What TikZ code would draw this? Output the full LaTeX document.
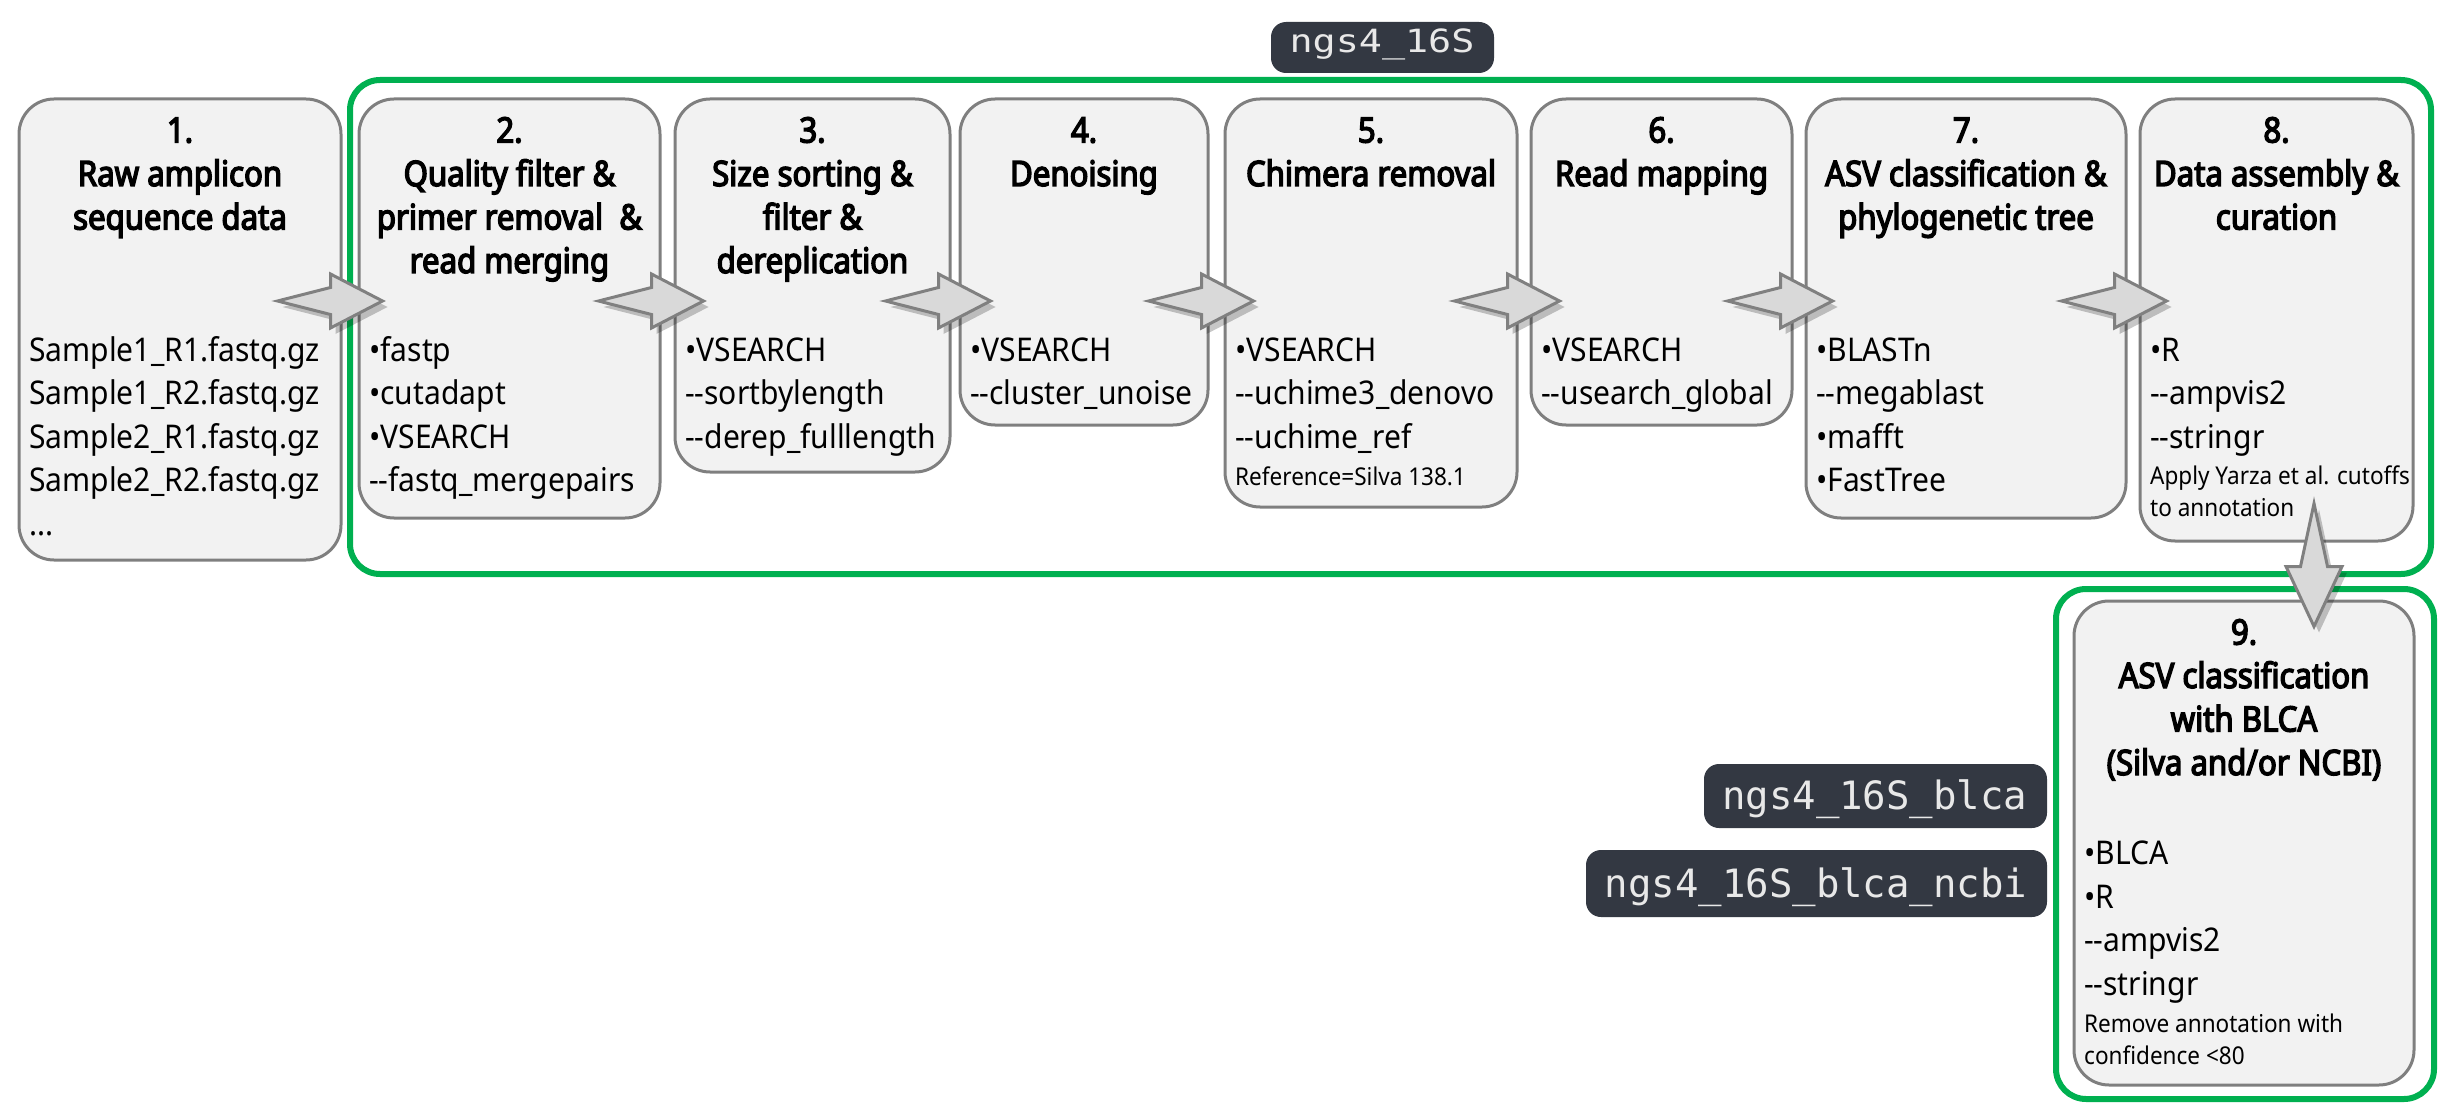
\documentclass[tikz,border=0pt]{standalone}
\usepackage{fontspec}
\setmainfont{Noto Sans}
\newfontfamily\bodyfont{Noto Sans}[FakeStretch=0.92]
\newfontfamily\ttlfont{Noto Sans}[FakeStretch=0.89, FakeBold=4]
\newfontfamily\tagmono{DejaVu Sans Mono}
\usetikzlibrary{calc,fit}
\definecolor{boxfill}{HTML}{F2F2F2}
\definecolor{boxline}{HTML}{7F7F7F}
\definecolor{frameg}{HTML}{00B050}
\definecolor{tagbg}{HTML}{333842}
\definecolor{tagfg}{HTML}{E8E8E8}
\definecolor{arrfill}{HTML}{D9D9D9}
\definecolor{arrline}{HTML}{808080}
\newcommand{\dd}{-\kern0pt-}
\begin{document}
\begin{tikzpicture}[x=0.3pt,y=-0.3pt,
  gbox/.style={draw=boxline, fill=boxfill, line width=0.9pt, rounded corners=10.5pt, inner sep=0pt},
  gframe/.style={draw=frameg, line width=1.8pt, rounded corners=9pt, inner sep=0pt},
  tag/.style={fill=tagbg, rounded corners=4.5pt, inner sep=0pt},
  ttl/.style={font=\ttlfont\fontsize{10.5}{13.05}\selectfont, align=center, anchor=base, inner sep=0pt},
  body/.style={font=\bodyfont\fontsize{9.8}{13.08}\selectfont, align=left, anchor=base west, inner sep=0pt},
  small/.style={font=\bodyfont\fontsize{7.35}{9.6}\selectfont, align=left, anchor=base west, inner sep=0pt},
  tagtxt/.style={text=tagfg, inner sep=0pt},
  arrstyle/.style={fill=arrfill, draw=arrline, line width=0.9pt, line join=miter},
  shadowstyle/.style={fill=black, opacity=0.22},
  harrow/.pic={
    \fill[shadowstyle, shift={(5,6)}] (-105,0) -- (-52,-13.5) -- (-52,-27) -- (0,0) -- (-52,27) -- (-52,13.5) -- cycle;
    \path[arrstyle] (-105,0) -- (-52,-13.5) -- (-52,-27) -- (0,0) -- (-52,27) -- (-52,13.5) -- cycle;
  },
  varrow/.pic={
    \fill[shadowstyle, shift={(5,6)}] (0,-123) -- (13.5,-60) -- (28,-60) -- (0,0) -- (-28,-60) -- (-13.5,-60) -- cycle;
    \path[arrstyle] (0,-123) -- (13.5,-60) -- (28,-60) -- (0,0) -- (-28,-60) -- (-13.5,-60) -- cycle;
  }
]
\useasboundingbox (0,0) rectangle (2453,1117);

% green frames
\node[gframe, fit={(350,80) (2431,574)}] (frame1) {};
\node[gframe, fit={(2056,589) (2434,1099)}] (frame2) {};

% grey boxes
\node[gbox, fit={(19,99) (341,560)}] (b1) {};
\node[gbox, fit={(359,99) (660,518)}] (b2) {};
\node[gbox, fit={(675,99) (950,472)}] (b3) {};
\node[gbox, fit={(960,99) (1208,425)}] (b4) {};
\node[gbox, fit={(1225,99) (1517,507)}] (b5) {};
\node[gbox, fit={(1531,99) (1792,425)}] (b6) {};
\node[gbox, fit={(1806,99) (2126,518)}] (b7) {};
\node[gbox, fit={(2140,99) (2413,541)}] (b8) {};
\node[gbox, fit={(2074,601) (2414,1085)}] (b9) {};

% tags
\node[tag, fit={(1271,22) (1494,73)}] (tagA) {};
\node[tagtxt, anchor=base] (tagAt) at (1382,53) {\tagmono\fontsize{9.6}{11}\selectfont\scalebox{1.2}[1]{ngs4\_16S}};
\node[tag, fit={(1704,764) (2047,828)}] (tagB) {};
\node[tagtxt, anchor=base east] (tagBt) at (2028,809) {\tagmono\fontsize{11.7}{14}\selectfont ngs4\_16S\_blca};
\node[tag, fit={(1586,850) (2047,917)}] (tagC) {};
\node[tagtxt, anchor=base east] (tagCt) at (2028,897) {\tagmono\fontsize{11.7}{14}\selectfont ngs4\_16S\_blca\_ncbi};

% titles (base anchor = baseline of the last line)
\node[ttl] (t1) at (b1.north |- 0,229.5) {1.\\Raw amplicon\\sequence data};
\node[ttl] (t2) at (b2.north |- 0,273) {2.\\Quality filter \&\\primer removal~ \&\\read merging};
\node[ttl] (t3) at (b3.north |- 0,273) {3.\\Size sorting \&\\filter \&\\dereplication};
\node[ttl] (t4) at (b4.north |- 0,186) {4.\\Denoising};
\node[ttl] (t5) at (b5.north |- 0,186) {5.\\Chimera removal};
\node[ttl] (t6) at (b6.north |- 0,186) {6.\\Read mapping};
\node[ttl] (t7) at (b7.north |- 0,229.5) {7.\\ASV classification \&\\phylogenetic tree};
\node[ttl] (t8) at (b8.north |- 0,229.5) {8.\\Data assembly \&\\curation};
\node[ttl] (t9) at (b9.north |- 0,775) {9.\\ASV classification\\with BLCA\\(Silva and/or NCBI)};

% body text
\node[body] (x1) at ($(b1.west |- 0,535.4)+(11,0)$) {Sample1\_R1.fastq.gz\\Sample1\_R2.fastq.gz\\Sample2\_R1.fastq.gz\\Sample2\_R2.fastq.gz\\...};
\node[body] (x2) at ($(b2.west |- 0,491.8)+(11,0)$) {•fastp\\•cutadapt\\•VSEARCH\\\dd fastq\_mergepairs};
\node[body] (x3) at ($(b3.west |- 0,448.2)+(11,0)$) {•VSEARCH\\\dd sortbylength\\\dd derep\_fulllength};
\node[body] (x4) at ($(b4.west |- 0,404.6)+(11,0)$) {•VSEARCH\\\dd cluster\_unoise};
\node[body] (x5) at ($(b5.west |- 0,448.2)+(11,0)$) {•VSEARCH\\\dd uchime3\_denovo\\\dd uchime\_ref};
\node[small] (s5) at ($(b5.west |- 0,485)+(11,0)$) {Reference=Silva 138.1};
\node[body] (x6) at ($(b6.west |- 0,404.6)+(11,0)$) {•VSEARCH\\\dd usearch\_global};
\node[body] (x7) at ($(b7.west |- 0,491.8)+(11,0)$) {•BLASTn\\\dd megablast\\•mafft\\•FastTree};
\node[body] (x8) at ($(b8.west |- 0,448.2)+(11,0)$) {•R\\\dd ampvis2\\\dd stringr};
\node[small] (s8) at ($(b8.west |- 0,516)+(11,0)$) {Apply Yarza et al. cutoffs\\to annotation};
\node[body] (x9) at ($(b9.west |- 0,995.3)+(11,0)$) {•BLCA\\•R\\\dd ampvis2\\\dd stringr};
\node[small] (s9) at ($(b9.west |- 0,1064)+(11,0)$) {Remove annotation with\\confidence <80};

% block arrows between steps
\coordinate (arow) at (0,301);
\pic at ($(b2.west |- arow)+(25,0)$) {harrow};
\pic at ($(b3.west |- arow)+(30,0)$) {harrow};
\pic at ($(b4.west |- arow)+(32,0)$) {harrow};
\pic at ($(b5.west |- arow)+(30,0)$) {harrow};
\pic at ($(b6.west |- arow)+(30,0)$) {harrow};
\pic at ($(b7.west |- arow)+(28,0)$) {harrow};
\pic at ($(b8.west |- arow)+(28,0)$) {harrow};
\pic at ($(b9.north)+(70,27)$) {varrow};
\end{tikzpicture}
\end{document}
